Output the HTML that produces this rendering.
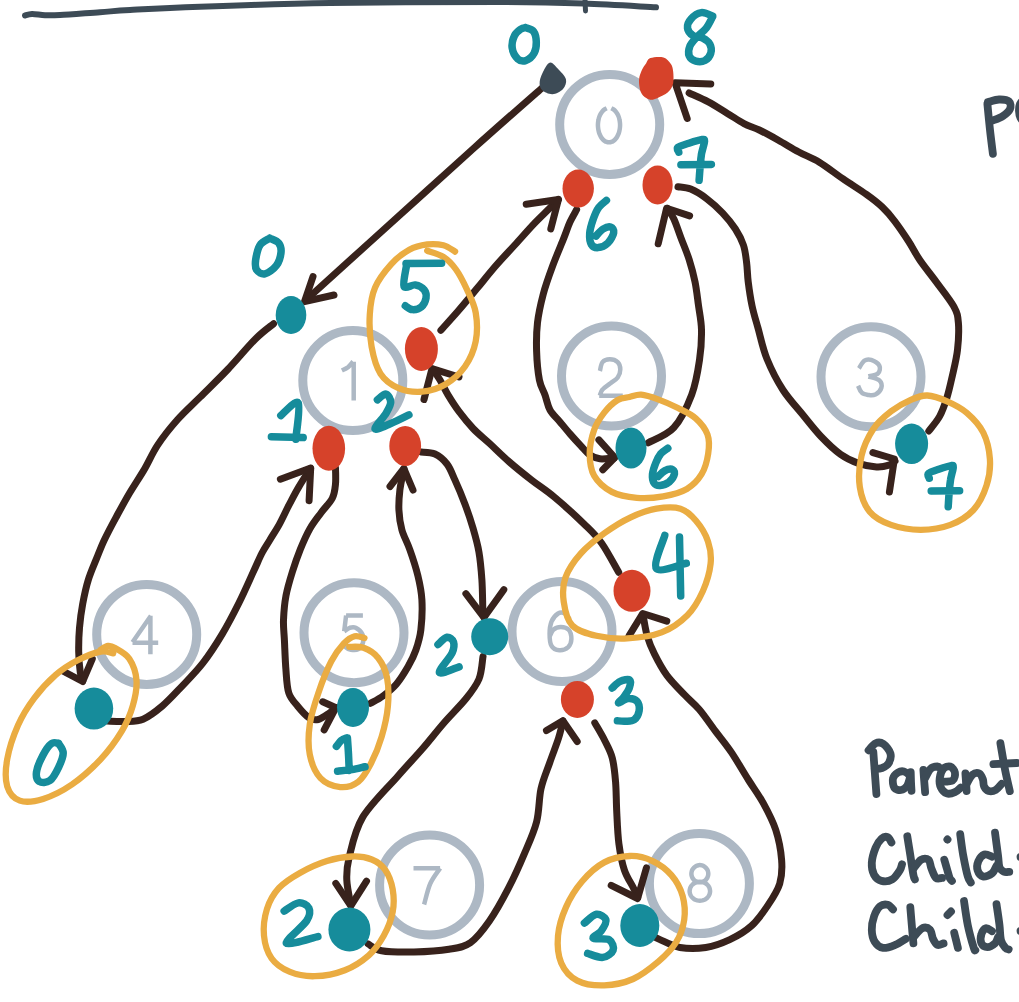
<!DOCTYPE html>
<html><head><meta charset="utf-8"><title>Euler tour</title>
<style>html,body{margin:0;padding:0;background:#fff;overflow:hidden}svg{display:block}</style>
</head><body>
<svg width="1019" height="1002" viewBox="0 0 1019 1002">
<rect width="1019" height="1002" fill="#fff"/>
<defs><filter id="soft" x="-2%" y="-2%" width="104%" height="104%"><feGaussianBlur stdDeviation="0.45"/></filter></defs>
<g filter="url(#soft)">
<g fill="none" stroke="#adb8c4" stroke-width="9">
<circle cx="609.7" cy="124.4" r="50"/>
<circle cx="352.8" cy="380.5" r="50"/>
<circle cx="611.5" cy="376" r="50"/>
<circle cx="871" cy="376.8" r="50"/>
<circle cx="146.7" cy="634.4" r="50"/>
<circle cx="354" cy="632.7" r="50"/>
<circle cx="562" cy="631.5" r="50"/>
<circle cx="429.6" cy="885" r="50"/>
<circle cx="699.4" cy="883.6" r="50"/>
</g>
<g fill="none" stroke="#adb8c4" stroke-width="4.5" stroke-linejoin="round">
<path d="M611.3 108.3C611.7 108.5 612.8 108.9 613.5 109.4C614.2 109.9 614.9 110.5 615.5 111.2C616.1 111.9 616.7 112.7 617.2 113.6C617.7 114.5 618.2 115.5 618.6 116.5C619 117.5 619.3 118.7 619.5 119.8C619.8 120.9 619.9 122.1 620 123.3C620.1 124.5 620.1 125.7 620 126.9C619.9 128.1 619.8 129.3 619.5 130.4C619.3 131.5 619 132.7 618.6 133.7C618.2 134.7 617.7 135.7 617.2 136.6C616.7 137.5 616.1 138.3 615.5 139C614.9 139.7 614.2 140.3 613.5 140.8C612.8 141.3 612.1 141.7 611.3 141.9C610.6 142.2 609.8 142.3 609 142.3C608.2 142.3 607.4 142.2 606.7 141.9C605.9 141.7 605.2 141.3 604.5 140.8C603.8 140.3 603.1 139.7 602.5 139C601.9 138.3 601.3 137.5 600.8 136.6C600.3 135.7 599.8 134.7 599.4 133.7C599 132.7 598.7 131.5 598.5 130.4C598.2 129.3 598.1 128.1 598 126.9C597.9 125.7 597.9 124.5 598 123.3C598.1 122.1 598.2 120.9 598.5 119.8C598.7 118.7 599 117.5 599.4 116.5C599.8 115.5 600.3 114.5 600.8 113.6C601.3 112.7 601.9 111.9 602.5 111.2C603.1 110.5 603.8 109.9 604.5 109.4C605.2 108.9 606.3 108.5 606.7 108.3"/>
<path d="M341.9 370.5C342.9 370 346.1 368.8 348 367.3C349.8 365.8 352.2 362.6 353.1 361.7M353.7 361.7L353.7 400.5"/>
<path d="M599.9 371C600.4 369.6 600.8 364.1 602.5 362.1C604.1 360.2 607.3 359.3 609.8 359.3C612.4 359.3 616 360.5 617.7 362.1C619.5 363.8 620.3 366.9 620.3 369.4C620.3 372 619.4 375.1 617.7 377.5C616 379.9 612.6 381.5 610.1 383.6C607.6 385.6 604.2 387.6 602.5 389.6C600.7 391.6 600.2 394.7 599.7 395.7M599.2 395.7L622.8 395.7"/>
<path d="M858.9 368.4C859.8 367.1 862.3 362.1 864.4 360.7C866.4 359.3 868.7 359.1 871.2 359.9C873.7 360.8 878.3 363.5 879.4 365.7C880.5 367.9 879.9 371.6 878 373.4C876.2 375.2 870.1 376 868.5 376.5M868.5 376.5C870.3 377.1 877.3 378.4 879.4 380.3C881.5 382.3 882 385.7 881.3 388C880.6 390.4 877.4 393.4 875.3 394.6C873.2 395.7 870.8 395.3 868.5 395C866.2 394.6 863.4 394.2 861.7 392.6C859.9 391.1 858.7 386.9 858.1 385.7"/>
<path d="M150.4 654.3L150.4 615.7M150.9 615.7L132.5 642.2M132.5 642.8L158.2 642.8"/>
<path d="M362.9 615.4L346.1 615.4M346.1 615.4L344.2 631.2M344.2 631.2C345.1 630.7 347.8 628.4 349.7 627.8C351.6 627.3 353.6 626.8 355.7 627.8C357.8 628.9 361.2 631.7 362.4 634.2C363.6 636.7 363.6 640.4 362.9 642.9C362.2 645.4 360.1 648.2 358.1 649.3C356.1 650.4 353.1 650.1 350.9 649.7C348.7 649.3 346.2 648 344.9 646.7C343.6 645.4 343.3 642.6 343 641.8"/>
<path d="M570 619.6C569.1 618.6 566.7 614.5 564.7 613.5C562.7 612.5 560.3 612.2 558.1 613.5C555.9 614.9 552.9 618.2 551.5 621.6C550.1 625 549.6 629.7 549.6 633.7C549.6 637.8 549.8 643.1 551.5 645.8C553.1 648.6 556.6 650.1 559.4 650.3C562.2 650.5 566.2 648.9 568.2 647.1C570.2 645.2 571.3 641.9 571.4 639C571.4 636.1 570.5 631.7 568.7 629.7C566.9 627.7 563.3 626.9 560.8 626.9C558.2 626.9 555.1 628.2 553.3 629.7C551.6 631.2 550.7 634.7 550.1 635.7"/>
<path d="M413.5 868.2L440.1 868.2M440.1 868.2C438.5 870.8 433 877.4 430.3 883.5C427.6 889.5 425.2 901 424.1 904.5"/>
<path d="M695.6 866.3C696 866.1 697 865.6 697.7 865.4C698.4 865.2 699.1 865.1 699.8 865.1C700.6 865.1 701.3 865.2 702 865.4C702.7 865.6 703.5 865.9 704.1 866.3C704.7 866.7 705.3 867.1 705.8 867.7C706.4 868.2 706.8 868.8 707.2 869.4C707.5 870.1 707.8 870.8 708 871.5C708.2 872.2 708.3 873 708.3 873.7C708.3 874.4 708.2 875.2 708 875.9C707.8 876.6 707.5 877.3 707.2 878C706.8 878.6 706.4 879.2 705.8 879.8C705.3 880.3 704.7 880.7 704.1 881.1C703.5 881.5 702.7 881.8 702 882C701.3 882.2 700.6 882.3 699.8 882.3C699.1 882.3 698.4 882.2 697.7 882C697 881.8 696.2 881.5 695.6 881.1C695 880.7 694.4 880.3 693.9 879.8C693.3 879.2 692.9 878.6 692.5 878C692.2 877.3 691.9 876.6 691.7 875.9C691.5 875.2 691.4 874.4 691.4 873.7C691.4 873 691.5 872.2 691.7 871.5C691.9 870.8 692.2 870.1 692.5 869.4C692.9 868.8 693.3 868.2 693.9 867.7C694.4 867.1 695 866.7 695.6 866.3C696.2 865.9 697.3 865.6 697.7 865.4M694.7 883C695.2 882.8 696.4 882.2 697.2 882C698.1 881.8 699 881.7 699.8 881.7C700.7 881.7 701.6 881.8 702.5 882C703.3 882.2 704.2 882.5 705 883C705.7 883.4 706.4 883.9 707.1 884.5C707.7 885.1 708.3 885.7 708.7 886.4C709.1 887.2 709.5 887.9 709.7 888.7C709.9 889.5 710.1 890.4 710.1 891.2C710.1 892 709.9 892.9 709.7 893.7C709.5 894.5 709.1 895.3 708.7 896C708.3 896.7 707.7 897.4 707.1 897.9C706.4 898.5 705.7 899.1 705 899.5C704.2 899.9 703.3 900.2 702.5 900.4C701.6 900.6 700.7 900.7 699.8 900.7C699 900.7 698.1 900.6 697.2 900.4C696.4 900.2 695.5 899.9 694.7 899.5C694 899.1 693.3 898.5 692.6 897.9C692 897.4 691.4 896.7 691 896C690.6 895.3 690.2 894.5 690 893.7C689.8 892.9 689.6 892 689.6 891.2C689.6 890.4 689.8 889.5 690 888.7C690.2 887.9 690.6 887.2 691 886.4C691.4 885.7 692 885.1 692.6 884.5C693.3 883.9 694 883.4 694.7 883C695.5 882.5 696.8 882.2 697.2 882"/>
</g>
<g fill="none" stroke="#37231c" stroke-width="7" stroke-linecap="round" stroke-linejoin="round">
<path d="M542.7 87.3C531.2 97.4 501.1 123.7 474 148C446.9 172.3 408 207.7 380 233C352 258.3 318.3 288.8 306 300"/>
<path d="M273.6 323.7C270.6 326.2 263.4 331.1 255.7 338.7C248 346.3 237 359.7 227.7 369.5C218.4 379.3 208.2 389 199.8 397.4C191.4 405.8 184.4 411.9 177.4 419.8C170.4 427.7 163.4 436.5 157.8 444.9C152.2 453.3 148.6 462.2 143.9 470.1C139.2 478 134.6 484.6 129.9 492.5C125.2 500.4 120.2 509.7 115.9 517.6C111.6 525.5 107.6 533.1 104.3 540C101 546.9 99 552.6 96.3 559.2C93.6 565.9 90.6 572.5 88.3 579.9C86 587.3 84.2 595.9 82.7 603.9C81.2 611.9 80.2 619.8 79.5 627.8C78.8 635.8 78.6 644.3 78.7 651.8C78.8 659.2 79.6 667.6 80.3 672.5C81 677.4 82.3 679.6 82.7 681"/>
<path d="M107.3 721C110.2 721.1 119 721.8 125 721.5C131 721.2 136.9 721.8 143.1 719.2C149.3 716.6 155.9 711.4 162.3 706C168.7 700.6 174.6 694 181.4 686.8C188.2 679.6 196.2 671.7 203 662.9C209.8 654.1 216.2 644.1 222.2 634.1C228.2 624.1 233.7 613.4 238.9 603C244.1 592.6 249.5 580.2 253.3 571.9C257.2 563.6 259.2 558.4 262 553C264.8 547.6 267.1 544.6 270 539.8C272.9 534.9 276.4 529.8 279.6 523.9C282.8 518 286 510.8 289.2 504.7C292.4 498.6 295.1 493.1 298.7 487.1C302.2 481.1 308.5 471.6 310.5 468.5"/>
<path d="M335.5 468C335.5 470.7 336 478.9 335.5 484C335 489.1 334.7 493.5 332.3 498.3C329.9 503.1 324.8 507.6 321.1 512.7C317.4 517.8 313.4 522.6 309.9 528.7C306.4 534.8 303.2 542.2 300.3 549.4C297.4 556.6 294.8 564.1 292.4 571.8C290 579.5 287.5 587.7 286 595.7C284.5 603.7 283.8 612.6 283.5 620C283.2 627.4 284 631.8 284.4 640C284.8 648.2 285.2 660.6 285.9 669.4C286.6 678.2 286.8 686.9 288.8 693C290.8 699.1 294.3 702 297.7 706.2C301.1 710.4 306 715.8 309.4 718C312.8 720.2 315.1 720.2 318.3 719.5C321.5 718.8 325.7 715.6 328.6 713.6C331.5 711.6 334.7 708.7 335.9 707.7"/>
<path d="M370.5 703.3C372.6 702.1 378.7 699.2 383 696C387.3 692.8 392.1 689.1 396.3 684.2C400.5 679.3 404.8 672.2 408.1 666.5C411.4 660.8 413.8 656.1 415.9 650C418 643.9 419.9 638 420.9 629.6C421.9 621.2 422.4 608.7 421.9 599.7C421.4 590.7 419.9 584 417.9 575.7C415.9 567.4 412.6 557.4 409.9 549.8C407.2 542.1 403.7 536.4 401.9 529.8C400.1 523.1 399.2 516.5 398.9 509.9C398.6 503.2 399.1 496.7 399.9 489.9C400.7 483.1 403.2 472.5 403.9 469"/>
<path d="M421 452C423.3 452.3 430.7 452 435 454C439.3 456 443.7 459.7 447 464C450.3 468.3 451.9 473.2 454.9 479.9C457.9 486.5 461.9 495.9 464.9 503.9C467.9 511.9 470.6 519.8 472.9 527.8C475.2 535.8 477.4 543.1 478.9 551.8C480.4 560.4 481.2 569.7 481.9 579.7C482.6 589.7 482.6 605.5 482.9 611.7C483.2 617.9 483.7 616.1 483.9 617"/>
<path d="M483 656.6C482.3 660.3 481.9 672 479 679C476.1 686 471.8 691.5 465.9 698.8C460 706.1 451.2 714.6 443.9 723C436.6 731.4 429.6 740.5 422 749.3C414.4 758.1 407.9 764.6 398 776C388.1 787.4 370.8 803.7 362.6 817.4C354.4 831.1 351.6 847.6 349 858C346.4 868.4 346.5 872.2 346.8 880C347.1 887.8 350.1 900.8 350.8 905"/>
<path d="M368.1 943.9C370.4 945 374 949.4 381.6 950.7C389.2 952.1 402.7 952.2 413.9 952C425.1 951.8 439.6 950.9 449 949.3C458.4 947.7 463.8 947.3 470.5 942.6C477.2 937.9 483.1 930 489.4 921C495.7 912 502.4 899.9 508.2 888.7C514 877.5 519.7 864.8 524.4 853.6C529.1 842.5 533.8 832.6 536.6 821.8C539.4 811 538.8 798.7 541 788.8C543.2 778.9 546.9 770.9 549.8 762.5C552.7 754.1 556.3 745.2 558.5 738.3C560.7 731.4 562.2 723.9 562.9 721"/>
<path d="M594.8 722.9C596.4 725.8 601.8 734.6 604.7 740.5C607.6 746.4 610.5 751.1 612.3 758.1C614.1 765.1 614.9 773.4 615.6 782.2C616.3 791 616.2 800.5 616.7 810.8C617.2 821 617.6 833.8 618.9 843.7C620.2 853.6 622 862.8 624.4 870.1C626.8 877.4 631 883 633.2 887.6C635.4 892.2 636.9 895.9 637.6 897.5"/>
<path d="M652 935.6C653.3 936.3 655.4 937.6 660 939.6C664.6 941.6 672.3 946.2 679.9 947.5C687.5 948.8 697.5 948.8 705.8 947.5C714.1 946.2 722.1 943.2 729.8 939.6C737.4 936 745.4 931.3 751.7 925.6C758 919.9 763 912.6 767.7 905.6C772.4 898.6 777.4 891.3 779.7 883.7C782 876.1 782.3 868.8 781.6 859.8C780.9 850.8 778.7 839.1 775.7 829.8C772.7 820.5 768.2 812.2 763.7 803.9C759.2 795.6 753.9 788.5 748.5 780C743.1 771.5 737.1 760.8 731.6 752.6C726.1 744.5 720.8 738.3 715.4 731.1C710 723.9 704.4 715.5 699.3 709.5C694.2 703.5 690.3 700.9 684.9 695.2C679.5 689.5 672 682.3 666.9 675.4C661.8 668.5 657.7 660.5 654.4 653.9C651.1 647.3 649.1 642.2 647.2 635.9C645.3 629.6 643.9 619.3 643.2 616"/>
<path d="M618.7 572.3C615.8 567.4 607.2 551 601.5 543C595.8 535 592.2 531.9 584.3 524.2C576.4 516.5 562.9 504.2 554.1 496.9C545.4 489.6 539.2 486 531.8 480.2C524.3 474.4 516.4 468.1 509.4 462C502.4 455.9 495.9 449.4 489.9 443.8C483.8 438.2 478.2 433.9 473.1 428.5C468 423.1 463.3 417.3 459.1 411.7C454.9 406.1 451.2 400.2 448 394.9C444.8 389.6 442.5 384.2 440 380C437.5 375.8 434.2 371.2 433 369.5"/>
<path d="M440.9 330.3C443.7 327.1 451.9 318.2 457.9 311.3C463.9 304.4 470.6 296.2 476.9 288.6C483.2 281 489.5 273.1 495.8 265.8C502.1 258.5 508.5 251.9 514.8 245C521.1 238.1 528 230.1 533.7 224.1C539.4 218.1 544.8 213.1 548.9 209C553 204.9 556.8 201.1 558.4 199.5"/>
<path d="M576.6 209.7C575.5 211.8 572.1 217.4 570 222C567.9 226.6 567 230.1 564.1 237.4C561.2 244.7 556.2 256.3 552.7 265.8C549.2 275.3 545.7 284.8 543.2 294.3C540.7 303.8 538.6 313.2 537.5 322.7C536.4 332.2 536.3 341.6 536.6 351.1C536.9 360.7 538 372.7 539.4 380C540.8 387.3 543.2 390 545 395C546.8 400 547.5 405.5 550 410C552.5 414.5 556.7 417.9 560 421.9C563.3 425.9 566.5 429.9 570 433.9C573.5 437.9 577.6 442.4 580.9 445.9C584.2 449.4 586.7 452.8 589.9 454.9C593.1 457 595.9 458.3 599.9 458.8C603.9 459.3 611.6 458.1 614 458"/>
<path d="M648.3 442.7C652.5 440.2 666.6 435.7 673.8 427.7C681 419.7 687.4 406 691.7 394.7C696 383.4 697.9 370.8 699.5 360C701.1 349.2 701.7 339 701.5 329.9C701.3 320.8 699.6 313.6 698.5 305.6C697.4 297.6 696.6 289.4 695 281.7C693.4 274 691.4 266.7 689.1 259.4C686.8 252.1 683.5 244.7 681 238C678.5 231.3 676.2 224.2 674 219.3C671.8 214.4 668.6 210.3 667.5 208.5"/>
<path d="M678 186.8C680.1 187.2 685.9 187.1 690.7 189.1C695.5 191.1 701.4 194.7 706.7 198.7C712 202.7 717.9 208 722.7 213.1C727.5 218.2 732 223.7 735.4 229C738.8 234.3 741.5 239.4 743.4 245C745.3 250.6 745.8 256.4 746.6 262.5C747.4 268.6 747.3 274.5 748.2 281.7C749.1 288.9 750.4 297.9 752 305.6C753.6 313.3 755.5 319.1 758 328C760.5 336.9 762.8 348.7 767 359C771.2 369.3 777 380.7 783 390C789 399.3 796.7 407.2 803 415C809.3 422.8 814.7 429.9 821 436.5C827.3 443.1 834.4 449.9 840.6 454.4C846.9 458.9 852.5 461.3 858.5 463.4C864.5 465.5 871.4 466.7 876.5 467C881.6 467.3 885.9 466.2 889 465.2C892.1 464.2 894 461.7 895 461"/>
<path d="M928.8 431C930.6 428.6 936.6 421.8 939.6 416.4C942.6 411 944.6 405 946.7 398.4C948.8 391.8 950.3 385 952.1 376.9C953.9 368.8 956.5 358.9 957.5 349.9C958.5 340.9 959 330.1 958.4 322.9C957.8 315.7 957.6 313.6 953.9 306.7C950.2 299.8 941.7 289.4 936 281.6C930.3 273.8 924.3 266.7 919.8 260C915.2 253.3 912.9 248 908.7 241.5C904.5 235 899 226.9 894.6 221.1C890.2 215.3 886.8 211.3 882.1 206.9C877.4 202.5 873 199.1 866.4 194.4C859.8 189.7 850.6 184.1 842.8 178.7C834.9 173.3 826.6 166.6 819.3 162.2C812 157.8 805.6 155.7 798.8 152C792 148.3 785 143.9 778.4 140.2C771.8 136.5 765 132.8 759.3 130C753.6 127.2 749.3 126.4 744 123.6C738.7 120.8 733.4 117 727.4 113.4C721.4 109.8 714.7 105.3 708.3 101.9C701.9 98.5 692.3 94.5 689.1 93"/>
<path d="M334 295L304.5 301.6L313 276.6"/>
<path d="M62.8 671L82.7 681.5L92.3 659"/>
<path d="M280.4 479.2L310.7 468L309.1 500.7"/>
<path d="M322.7 701.8L335.9 707.7L324.2 729.8"/>
<path d="M390 486.5L403.9 468.5L413 490"/>
<path d="M465.9 593.7L483.9 617.5L503.8 589.7"/>
<path d="M335.8 883.4L350.8 905.9L366.5 881.2"/>
<path d="M546.5 730.6L562.9 720.7L577.2 741.6"/>
<path d="M611.2 885.4L637.6 898.5L646.4 867.9"/>
<path d="M629 635.8L642.7 613.5L666.8 621.2"/>
<path d="M459 377L432 368.7L424 399.5"/>
<path d="M526.2 204.2L558.4 199.5L550.8 228.9"/>
<path d="M598.9 439.9L614.8 457.5L602.8 469.8"/>
<path d="M658.2 243.8L666.6 208.2L689.6 215.9"/>
<path d="M872.9 452.6L894.4 459L889.4 492"/>
<path d="M710.8 84L675.1 82.8L687.2 118.5"/>
</g>
<g fill="none" stroke="#eaac42" stroke-width="6.3" stroke-linecap="round" stroke-linejoin="round">
<path d="M455.1 251.6C453.2 250.6 448 246.5 443.4 245.3C438.8 244.1 432.9 243.7 427.2 244.4C421.5 245.2 415.3 246.5 409.3 249.8C403.3 253.1 397 257.8 391.3 264.1C385.6 270.4 378.7 279.1 375.1 287.5C371.5 295.9 370.4 304.5 369.8 314.4C369.2 324.3 369.8 336.9 371.6 346.8C373.4 356.7 376 366.8 380.5 373.7C385 380.6 391.6 385.1 398.5 388.1C405.4 391.1 414.1 392.3 421.9 391.7C429.7 391.1 438 388.7 445.2 384.5C452.4 380.3 459.9 373.7 465 366.5C470.1 359.3 473.9 350.4 475.7 341.4C477.5 332.4 477.2 321.3 475.7 312.6C474.2 303.9 470.1 296.5 466.8 289.3C463.5 282.1 459.9 274.9 456 269.5C452.1 264.1 448.2 260 443.4 256.9C438.6 253.8 429.9 251.7 427.2 250.7"/>
<path d="M629.5 397C633.4 396.1 636.6 394.3 641.2 394.7C645.9 395.1 651.3 396.9 657.4 399.1C663.5 401.3 671.6 404.8 678 408C684.4 411.2 690.8 413.9 695.7 418.3C700.6 422.7 705.4 428.6 707.5 434.5C709.6 440.4 709.2 447 708.2 453.6C707.2 460.2 705.2 468.3 701.6 474.2C698 480.1 693.3 485.2 686.9 488.9C680.5 492.6 671.6 494.8 663.3 496.3C654.9 497.8 645.4 498.5 636.8 497.8C628.2 497.1 618.9 495.6 611.8 491.9C604.7 488.2 597.8 482.1 594.1 475.7C590.4 469.3 589.7 461.2 589.7 453.6C589.7 446 591.7 436.9 594.1 430C596.5 423.1 600.5 417.4 604.4 412.4C608.3 407.4 613.5 402.6 617.7 400C621.9 397.4 625.6 397.9 629.5 397Z"/>
<path d="M927.3 395.5C933.3 395.8 940.5 398.5 947.1 401.4C953.7 404.3 960.8 407.7 966.8 412.9C972.8 418.1 979.4 425 983.3 432.7C987.1 440.4 989.3 450.2 989.9 459C990.5 467.8 989.4 476.8 986.6 485.3C983.9 493.8 979.5 503.4 973.4 510C967.3 516.6 959.1 521.6 950.3 524.9C941.5 528.2 930.6 529.8 920.7 529.8C910.8 529.8 899.6 527.9 891.1 524.9C882.6 521.9 874.9 518 869.7 511.7C864.5 505.4 861.2 496.3 859.8 487C858.4 477.7 859.3 465.3 861.5 455.7C863.7 446.1 868.1 436.8 873 429.4C877.9 422 884.8 416.2 891.1 411.3C897.4 406.4 904.8 402.4 910.8 399.8C916.8 397.2 921.2 395.2 927.3 395.5Z"/>
<path d="M680.5 508.7C687.1 510.7 691.4 515.3 696 520.8C700.6 526.2 705.6 534.2 708 541.4C710.4 548.5 711.5 555.4 710.6 563.7C709.7 572 706.7 582.6 702.8 591.2C698.9 599.8 694.3 608.3 687.4 615.2C680.5 622.1 671.6 628.5 661.6 632.4C651.6 636.3 638.2 637.8 627.3 638.4C616.4 639 605.6 637.9 596.4 635.8C587.2 633.6 577.8 631.2 572.3 625.5C566.8 619.8 564.8 609.5 563.7 601.5C562.6 593.5 562.6 585.4 565.5 577.4C568.4 569.4 574.3 560.8 580.9 553.4C587.5 546 596.7 538.8 605 532.8C613.3 526.8 622.1 521.3 630.7 517.3C639.3 513.3 648.2 510.1 656.5 508.7C664.8 507.3 673.9 506.7 680.5 508.7Z"/>
<path d="M100.6 649.8C101.8 649.2 105.6 646.3 108 646C110.4 645.7 111.5 645.9 115 648C118.5 650.1 125.7 653.3 129.3 658.7C132.9 664.1 135.9 672.5 136.5 680.3C137.1 688.1 135.3 697 132.9 705.4C130.5 713.8 127.5 721.6 122.1 730.6C116.7 739.6 109 750.3 100.6 759.3C92.2 768.3 81.5 777.9 71.9 784.5C62.3 791.1 51.8 796.2 43.1 798.9C34.4 801.6 25.8 802.7 19.8 800.6C13.8 798.5 9.3 793.2 7.2 786.3C5.1 779.4 5.4 769.5 7.2 759.3C9 749.1 13.5 735.4 18 725.2C22.5 715 27.8 706.7 34.1 698.3C40.4 689.9 48.5 681.2 55.7 674.9C62.9 668.6 69.7 664.4 77.2 660.5C84.7 656.6 94.6 652.8 100.6 651.6C106.6 650.4 111.1 653.1 113.2 653.4"/>
<path d="M364.5 638C362.9 637.7 358.1 635.3 354.7 636.2C351.3 637.1 347.8 639.2 343.9 643.4C340 647.6 335.5 653.2 331.3 661.3C327.1 669.4 322.3 681.4 318.7 691.9C315.1 702.4 311.3 713.7 309.8 724.2C308.3 734.7 308 745.7 309.8 754.7C311.6 763.7 315.4 772.7 320.5 778.1C325.6 783.5 334 786.5 340.3 787.1C346.6 787.7 353.2 785.6 358.3 781.7C363.4 777.8 366.9 771.2 370.8 763.7C374.7 756.2 378.8 746.4 381.6 736.8C384.5 727.2 387 716.1 387.9 706.2C388.8 696.3 388.6 685.6 387 677.5C385.4 669.4 381.9 662.7 378 657.7C374.1 652.8 368.4 649.6 363.6 647.8C358.8 646 351.7 647 349.3 646.9"/>
<path d="M352.3 856.5C359.8 856.2 366.3 857.3 371.8 859.5C377.3 861.7 381.7 864.9 385.2 869.9C388.7 874.9 391.4 882.4 392.7 889.4C393.9 896.4 394.2 904.2 392.7 911.9C391.2 919.6 387.7 928.6 383.7 935.8C379.7 943 375.3 949.6 368.8 955.3C362.3 961 353.8 966.7 344.8 970.2C335.8 973.7 324.1 976 314.9 976.2C305.7 976.5 296.6 974.7 289.4 971.7C282.2 968.7 275.7 964.3 271.5 958.3C267.3 952.3 264.8 944 264 935.8C263.2 927.6 264.5 916.9 267 908.9C269.5 900.9 273.5 893.9 279 887.9C284.5 881.9 291.9 877.4 299.9 872.9C307.9 868.4 318.2 863.7 326.9 861C335.6 858.3 344.8 856.8 352.3 856.5Z"/>
<path d="M629.9 856C637.9 855.7 645.3 857.6 652.2 860.8C659.1 864 666.3 869.2 671.4 875.1C676.5 881 680.5 888.4 682.6 895.9C684.7 903.4 685.3 912.2 684.2 919.9C683.1 927.6 680.5 935.3 676.2 942.2C671.9 949.1 665.8 955.3 658.6 961.4C651.4 967.5 642.2 975 633.1 979C624 983 613.6 985.1 604.3 985.4C595 985.7 584.4 984.3 577.2 980.6C570 976.9 564.4 970.5 561.2 963C558 955.5 557.2 945.1 558 935.8C558.8 926.5 562 916.1 566 907.1C570 898.1 575.6 889 582 881.5C588.4 874 596.3 866.6 604.3 862.4C612.3 858.1 621.9 856.3 629.9 856Z"/>
</g>
<ellipse cx="578.2" cy="188.6" rx="15.7" ry="19" fill="#d6432a"/>
<ellipse cx="657.6" cy="184.9" rx="15.1" ry="19.5" fill="#d6432a"/>
<ellipse cx="421.4" cy="349" rx="16.5" ry="22" fill="#d6432a"/>
<ellipse cx="328.8" cy="448.3" rx="16.3" ry="22.5" fill="#d6432a"/>
<ellipse cx="405.2" cy="445.9" rx="15.9" ry="20" fill="#d6432a"/>
<ellipse cx="632" cy="590.8" rx="18.5" ry="21" fill="#d6432a"/>
<ellipse cx="577.4" cy="699.4" rx="16.5" ry="18.5" fill="#d6432a"/>
<ellipse cx="291" cy="315" rx="15.3" ry="19" fill="#138c9b"/>
<ellipse cx="631" cy="448" rx="15.5" ry="20.5" fill="#138c9b"/>
<ellipse cx="911.6" cy="443.8" rx="16.5" ry="20.2" fill="#138c9b"/>
<ellipse cx="93.9" cy="708.6" rx="19.3" ry="21" fill="#138c9b"/>
<ellipse cx="353" cy="707.4" rx="16" ry="19.5" fill="#138c9b"/>
<ellipse cx="489.7" cy="636.7" rx="18.5" ry="18.5" fill="#138c9b"/>
<ellipse cx="349.4" cy="929.5" rx="21" ry="22" fill="#138c9b"/>
<ellipse cx="639.8" cy="925.5" rx="19.5" ry="21.5" fill="#138c9b"/>
<path d="M650.4 58.1C653.3 57.1 660.1 56.5 663.5 57.5C666.9 58.5 669.1 61.5 670.7 63.8C672.3 66 672.7 67.7 673.1 71C673.5 74.3 673.8 80.1 673.1 83.5C672.4 86.9 670.8 89.2 668.9 91.3C667 93.4 664.4 94.7 661.7 96.1C659 97.5 655.4 99.4 652.8 99.7C650.2 100 648.2 99.2 646.2 97.9C644.2 96.6 642 94.9 640.8 91.9C639.6 88.9 638.8 83.6 639 79.9C639.2 76.2 640.8 72.6 642 69.8C643.2 67 644.8 65.2 646.2 63.2C647.6 61.2 647.5 59.1 650.4 58.1Z" fill="#d6432a"/>
<path d="M550.5 62.5C553 62.5 556.4 67.2 559 70C561.6 72.8 565.3 76.2 566 79.4C566.7 82.6 565.2 86.5 563 89C560.8 91.5 556 94 552.5 94.2C549 94.4 544.1 92.1 542 90C539.9 87.9 539.4 84.7 539.7 81.4C540 78.1 542.2 73.2 544 70C545.8 66.8 548 62.5 550.5 62.5Z" fill="#3e4b57"/>
<g fill="none" stroke="#138c9b" stroke-width="7.5" stroke-linecap="round" stroke-linejoin="round">
<path d="M525.5 27.6C526.9 28.2 531.8 29 533.6 31.4C535.4 33.8 536.2 38.2 536.3 41.8C536.4 45.4 535.9 49.9 534.2 53.1C532.5 56.2 528.7 59.6 526 60.5C523.3 61.5 520.1 61 517.8 58.9C515.5 56.8 512.7 51.9 512.2 48.1C511.6 44.2 513 38.8 514.5 35.6C516 32.4 519.2 30.3 521.1 28.9C522.9 27.6 524.8 27.8 525.5 27.6"/>
<path d="M712.6 16.1C710.7 15.5 705 12.1 701.4 12.6C697.8 13.1 693.3 16.3 691 18.9C688.7 21.4 687.1 25.2 687.5 28C687.8 30.8 690.5 34 693.1 35.7C695.6 37.3 700 36.7 702.8 38.1C705.6 39.5 708.4 41.5 709.8 44C711.1 46.5 711.7 50.4 710.8 53.1C710 55.9 707.4 59.1 704.9 60.5C702.4 61.8 698.5 61.9 695.8 61.1C693.2 60.4 690.2 58.4 689.2 55.9C688.2 53.4 688.6 49.3 689.9 46.1C691.3 42.9 694.5 39.7 697.2 36.7C700 33.7 703.8 31.3 706.3 28C708.9 24.6 711.5 18.6 712.6 16.8"/>
<path d="M678.8 152.1C678.6 151.3 676.2 148.9 677.9 147.4C679.6 145.9 684.9 144.5 688.9 143.2C693 141.9 699.5 139.9 702.1 139.6C704.7 139.3 704.6 139 704.5 141.4C704.4 143.8 702.3 149.7 701.5 153.9C700.8 158.2 700.5 162.7 700.1 167.1C699.7 171.5 699.3 178.1 699.1 180.3M680.9 164.7L711.4 164.4"/>
<path d="M606.4 200.4C605.2 201.6 601 204.3 598.8 207.4C596.5 210.6 594.7 215 593.2 219.3C591.7 223.6 590 229.1 589.7 233.3C589.4 237.5 590 242.1 591.4 244.5C592.8 246.9 595.3 247.8 598.1 247.6C600.8 247.4 605.2 245.6 607.8 243.1C610.5 240.6 613.3 235.3 613.7 232.6C614.2 229.9 612.4 227.6 610.6 227C608.8 226.4 605.4 227.6 602.9 229.1C600.5 230.6 597.1 234.9 596 236.1"/>
<path d="M269.8 238.2C271.3 239 276.8 240.6 278.7 243C280.5 245.4 281.4 248.8 281 252.5C280.6 256.3 279.1 262 276.4 265.5C273.7 269.1 268.2 273.1 264.9 273.8C261.6 274.5 258.2 272.1 256.6 269.9C255.1 267.6 255.1 264.5 255.6 260.3C256.2 256.2 257.6 248.8 259.9 245.2C262.3 241.5 268.2 239.4 269.8 238.2"/>
<path d="M406 263.6L441.6 263.3M406.7 264.3C406.3 268 402.6 282.9 404 286.3C405.4 289.7 411.8 284.3 415.1 284.9C418.5 285.5 422.4 287.6 424.2 289.8C426 292 426.4 295.3 426 298.2C425.5 301 423.7 305 421.4 306.9C419.1 308.8 415 309.8 412.3 309.6C409.6 309.5 406.5 306.5 405.3 305.8"/>
<path d="M280.8 415.6C283.7 413.5 295.7 399.1 298.2 403C300.6 407 296.2 433.2 295.8 439.2M271.4 436.8L303.2 437.6"/>
<path d="M377.4 399.9C378.8 398.9 383.8 393.7 386 394.1C388.2 394.5 390.7 399.1 390.7 402.3C390.7 405.5 388.6 408.8 386 413.3C383.4 417.7 374.2 427.3 375 429C375.8 430.7 385.1 425.9 390.7 423.5C396.4 421.1 405.8 416.3 408.9 414.8"/>
<path d="M667.8 448.2C666.6 449.1 662.8 451.2 660.8 453.7C658.8 456.2 657.1 459.7 655.7 463.1C654.3 466.5 652.8 470.9 652.5 474.2C652.2 477.5 652.8 481.2 654.1 483.1C655.4 484.9 657.7 485.7 660.2 485.5C662.7 485.3 666.7 483.9 669.1 482C671.5 480 674.1 475.8 674.5 473.6C674.9 471.5 673.3 469.7 671.6 469.2C670 468.8 666.8 469.7 664.6 470.9C662.4 472.1 659.3 475.5 658.3 476.4"/>
<path d="M929.3 478.3C929.2 477.5 926.9 475 928.5 473.5C930 472 935 470.6 938.8 469.3C942.5 468 948.6 465.9 951 465.6C953.4 465.3 953.3 465 953.2 467.5C953.1 469.9 951.1 475.8 950.5 480.1C949.8 484.4 949.5 489 949.1 493.4C948.7 497.8 948.4 504.5 948.2 506.7M931.2 491L959.6 490.7"/>
<path d="M664.8 535.4C663.4 540.9 652.8 563.8 656.4 568.5C660 573.1 681.3 564.2 686.3 563.3M679.5 537L680.7 596"/>
<path d="M58.6 743.5C59.4 745 63.2 749 63.2 753C63.2 756.9 60.8 762.7 58.6 767.3C56.4 771.9 53.1 778.2 49.9 780.6C46.6 783 41.5 783 39.3 781.5C37.1 780.1 35.9 776.4 36.5 772C37.1 767.7 40.3 760.1 42.8 755.4C45.3 750.6 49 745.4 51.6 743.5C54.2 741.5 57.5 743.5 58.6 743.5"/>
<path d="M336.4 746.3C337.2 745.3 339.7 741.7 341.5 740.3C343.2 738.9 345.9 738.3 346.7 737.9M347.4 737.9C347.6 740.6 348.2 748.9 348.5 754.3C348.8 759.8 349.1 767.7 349.2 770.4M337.6 771.2C340 770.9 347.4 770.3 352 769.6C356.6 768.9 362.8 767.2 365 766.8"/>
<path d="M438 644.5C439.4 643.3 444.3 637.8 446.9 637.3C449.5 636.9 452.6 639.3 453.5 641.9C454.3 644.5 454.4 647.9 452.1 653C449.7 658.2 438.2 670.4 439.4 672.7C440.5 675 455.8 667.8 459.1 666.8"/>
<path d="M612.2 688C613.5 686.9 617.3 682.7 620.2 681.4C623.1 680 628.2 678.9 629.7 680C631.2 681.1 630.3 685.1 629.3 688C628.3 690.9 625.5 694.6 623.7 697.1C621.9 699.6 617.8 702.8 618.5 703C619.2 703.2 624.8 698.8 627.9 698.5C631 698.2 635.1 699.2 637 701.3C638.9 703.4 639.6 707.9 639.1 711C638.6 714.1 636.6 718.1 634.2 719.8C631.9 721.5 627.9 721 625.1 721.2C622.3 721.3 618.7 720.9 617.4 720.8"/>
<path d="M284.2 911.1C286.5 909.7 294.3 903.4 298.4 902.9C302.5 902.4 307.5 905.1 308.9 908.1C310.3 911.1 310.4 915 306.6 920.9C302.9 926.7 284.5 940.7 286.4 943.3C288.3 945.9 312.7 937.7 317.9 936.6"/>
<path d="M584.4 923.1C586.4 921.6 592.8 914.8 596.4 914.3C600 913.8 605.1 917.1 605.9 919.9C606.7 922.7 603.3 928 601.1 931.1C599 934.1 591.8 936.8 593.2 938.2C594.5 939.7 605.8 937.8 609.1 939.8C612.5 941.8 614.2 947.3 613.1 950.2C612.1 953.1 607 956.9 602.7 957.4C598.5 957.9 590.1 954.1 587.6 953.4"/>
</g>
<g fill="none" stroke="#3e4b57" stroke-linecap="round" stroke-linejoin="round">
<path stroke-width="6" d="M25 15.5C26.2 15.2 28.7 14.1 32 14C35.3 13.9 40.3 15 45 15.2C49.7 15.4 50.8 15.5 60 15C69.2 14.5 88.3 13 100 12.2C111.7 11.4 113.3 10.9 130 10C146.7 9.1 166.7 7.9 200 6.7C233.3 5.5 280.5 3.8 330 3C379.5 2.2 454.7 1.9 497 2C539.3 2.1 557.1 2.6 583.6 3.5C610.1 4.4 643.9 6.7 656 7.3"/>
<path stroke-width="5" d="M585 0L585.5 11"/>
<path stroke-width="7.8" d="M987.4 104C987.8 108.3 989.1 121.7 990 130C990.9 138.3 992.4 149.8 992.9 153.8"/>
<path stroke-width="7.8" d="M988 102C989.8 101.6 995.5 99.6 999 99.5C1002.5 99.4 1007.2 99.9 1009 101.5C1010.8 103.1 1011 106.6 1010 109C1009 111.4 1005.8 114.1 1003 116C1000.2 117.9 994.7 119.8 993 120.5"/>
<path stroke-width="7.8" d="M1024 99C1023.3 99.8 1020.8 102 1020 104C1019.2 106 1018.9 108.7 1019 111C1019.1 113.3 1019.7 116.2 1020.5 118C1021.3 119.8 1023.4 121.3 1024 122"/>
<path stroke-width="7.8" d="M868.6 750.3C869.8 749.1 873.1 744.3 875.6 743.3C878.1 742.2 880.9 742.3 883.4 744C885.9 745.7 889.5 750.3 890.4 753.4C891.3 756.5 890.3 760.3 888.9 762.8C887.5 765.3 884.1 767.2 881.8 768.2C879.4 769.2 876 768.9 874.8 769"/>
<path stroke-width="7.8" d="M873.3 751.8C873.6 755.7 874.5 768 875 775C875.5 782 876.2 790.8 876.4 794"/>
<path stroke-width="7.8" d="M909.9 775.2C908.9 774.6 906 772 904 771.5C902 771 899.8 771.4 898 772.5C896.2 773.6 893.6 775.9 893 778.4C892.4 780.9 893 785.8 894.3 787.7C895.6 789.6 898.9 790.3 901 790C903.1 789.7 905.5 788 907 786C908.5 784 909.4 779.3 909.9 778"/>
<path stroke-width="7.8" d="M910.7 772.1C910.8 773.8 910.9 778.9 911 782C911.1 785.1 911.4 789.3 911.5 790.8"/>
<path stroke-width="7.8" d="M923.4 770C923.5 771.8 923.9 777.3 924.2 781C924.5 784.7 925 790.3 925.1 792.2"/>
<path stroke-width="7.8" d="M925.1 778.2C926 776.7 928.4 770.9 930.4 768.9C932.4 766.9 935.6 766.5 937.4 766.5C939.1 766.5 940.3 768.5 940.9 768.9"/>
<path stroke-width="7.8" d="M940.9 781.7C942.9 781.5 950.3 782 952.6 780.5C954.9 779 955.3 774.7 954.9 772.4C954.5 770.1 952.2 767.1 950.2 766.5C948.2 765.9 945 766.9 943.2 768.9C941.5 770.9 940.1 775.1 939.7 778.2C939.3 781.3 939.7 785.1 940.9 787.6C942.1 790.1 944.4 792.6 946.7 793.4C949 794.2 952.6 793.2 954.9 792.2C957.2 791.2 959.7 788.4 960.7 787.6"/>
<path stroke-width="7.8" d="M965.4 773.5C965.5 774.9 965.8 779.1 966 782C966.2 784.9 966.5 789.6 966.6 791.1"/>
<path stroke-width="7.8" d="M966.6 784C967.6 782.5 970.3 776.5 972.4 774.7C974.5 773 977.6 772.7 979.4 773.5C981.1 774.3 982.1 777.2 982.9 779.4C983.7 781.5 983.1 784.4 984.1 786.4C985.1 788.4 986.8 790.5 988.8 791.1C990.8 791.7 993.7 791.1 995.8 789.9C997.9 788.7 1000.6 785 1001.6 784"/>
<path stroke-width="7.8" d="M1000.4 743.2C1001.2 747.7 1003.5 762 1005.1 770C1006.7 778 1009 787.6 1009.8 791.1"/>
<path stroke-width="7.8" d="M993.4 764.2L1016.8 763"/>
<path stroke-width="7.8" d="M891.4 842.4C890.8 841.5 889.3 837.7 887.7 837.1C886.1 836.5 883.6 836.8 881.6 838.6C879.6 840.4 877.2 843.7 875.6 847.7C874 851.7 872 858.3 871.8 862.8C871.5 867.3 872.5 871.9 874.1 874.9C875.7 877.9 878.6 880.1 881.6 880.9C884.6 881.6 889.2 881.2 892.2 879.4C895.2 877.6 898.2 872.8 899.8 870.3C901.4 867.8 901.6 865.3 902 864.3"/>
<path stroke-width="7.8" d="M907.3 836.3C907.8 839.4 909.3 848.8 910.3 855.2C911.3 861.6 912.6 870.9 913.4 874.9C914.2 878.9 914.6 878.6 914.9 879.4"/>
<path stroke-width="7.8" d="M913.4 868.8C914.6 867.3 918.4 861.3 920.9 859.8C923.4 858.3 926.7 858.3 928.5 859.8C930.3 861.3 930.2 865.8 931.5 868.8C932.8 871.8 934.2 876.4 936 877.9C937.8 879.4 941.1 877.9 942.1 877.9"/>
<path stroke-width="7.8" d="M947.4 839.4L947.5 839.5"/>
<path stroke-width="7.8" d="M944.3 859.8C944.8 861.3 946.1 866 947 869C947.9 872 948.8 875.9 949.6 877.9C950.4 879.9 951.5 880.4 951.9 880.9"/>
<path stroke-width="7.8" d="M960.2 834.1C960.7 837.6 961.9 848.2 963.2 855.2C964.5 862.2 966.5 871.9 967.8 876.4C969.1 880.9 970.3 881.4 970.8 882.4"/>
<path stroke-width="7.8" d="M992 856.7C990.7 856.3 986.7 853.7 984.4 854.5C982.1 855.3 979.4 858.7 978.3 861.3C977.2 863.9 976.8 867.8 977.6 870.3C978.4 872.8 980.5 875.9 982.9 876.4C985.3 876.9 989.7 875.2 992 873.4C994.3 871.6 995.8 867.1 996.5 865.8"/>
<path stroke-width="7.8" d="M995 832.6C995.5 836.4 997.2 849.4 998 855.2C998.8 861 998.5 864.5 999.5 867.3C1000.5 870.1 1002.4 871 1004 871.8C1005.6 872.5 1008.4 871.8 1009.3 871.8"/>
<path stroke-width="7.8" d="M1020.5 857L1026 857"/>
<path stroke-width="7.8" d="M893 909.4C892.1 908.6 889.9 905.3 887.7 904.8C885.6 904.3 882.4 904.4 880.1 906.3C877.8 908.2 875.5 912.3 874.1 916.2C872.7 920.1 871.7 925.5 871.8 929.8C871.9 934.1 872.9 938.8 874.8 941.8C876.7 944.8 879.7 947.4 883.1 947.9C886.5 948.4 891.4 946.4 895.2 944.9C899 943.4 904 939.8 905.8 938.8"/>
<path stroke-width="7.8" d="M910.3 907.1C910.5 910.1 911.3 919.2 911.8 925.2C912.3 931.2 913.1 940.4 913.4 943.4"/>
<path stroke-width="7.8" d="M913.4 937.3C914.9 935.8 919.6 929.5 922.4 928.2C925.2 927 928.2 928 930 929.8C931.8 931.6 931.8 936.3 933 938.8C934.2 941.3 935.7 944.1 937.5 944.9C939.3 945.7 942.6 943.6 943.6 943.4"/>
<path stroke-width="7.8" d="M947.5 915L951 911.5"/>
<path stroke-width="7.8" d="M954.2 932.8C954.5 934 955.4 937.5 956 940C956.6 942.5 957.6 946.6 957.9 947.9"/>
<path stroke-width="7.8" d="M964 901C964.6 905 966.2 917.4 967.8 925.2C969.4 933 972.5 943.7 973.8 947.9C975 952.1 975 949.8 975.3 950.2"/>
<path stroke-width="7.8" d="M992 931.3C991 930.8 987.7 927.7 985.9 928.2C984.1 928.7 982.1 931.8 981.4 934.3C980.6 936.8 980.4 941.3 981.4 943.4C982.4 945.5 985.1 947.1 987.4 947.1C989.7 947.1 993.2 945 995 943.4C996.8 941.8 997.5 938.3 998 937.3"/>
<path stroke-width="7.8" d="M996.5 904.1C997 907.6 998.8 919.2 999.5 925.2C1000.2 931.2 1000 936.5 1001 940.3C1002 944.1 1004.2 946.4 1005.5 947.9C1006.8 949.4 1008.1 949.1 1008.6 949.4"/>
<path stroke-width="7.8" d="M1020.5 931L1026 931"/>
</g>
</g>
</svg>
</body></html>
